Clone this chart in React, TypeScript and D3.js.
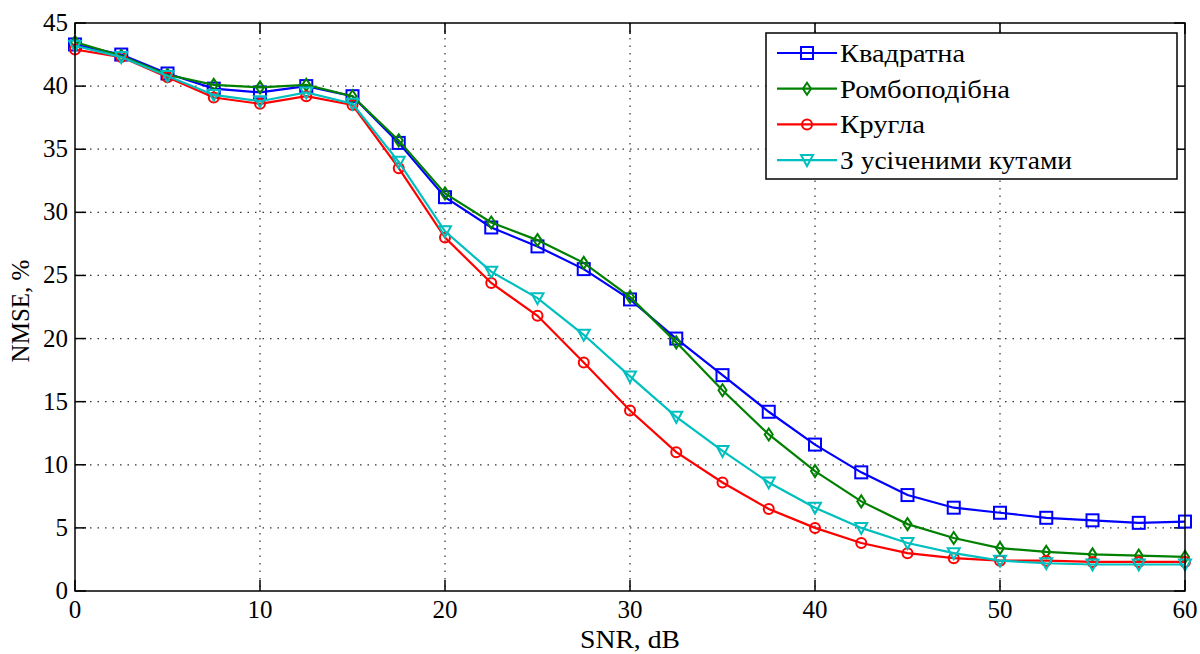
import React from "react";
import * as d3 from "d3";

const snr = [0, 2.5, 5, 7.5, 10, 12.5, 15, 17.5, 20, 22.5, 25, 27.5, 30, 32.5, 35, 37.5, 40, 42.5, 45, 47.5, 50, 52.5, 55, 57.5, 60];
const square = [43.3, 42.5, 41.0, 39.8, 39.5, 40.0, 39.2, 35.5, 31.2, 28.8, 27.3, 25.5, 23.1, 20.0, 17.1, 14.2, 11.6, 9.4, 7.6, 6.6, 6.2, 5.8, 5.6, 5.4, 5.5];
const rhombus = [43.5, 42.4, 40.9, 40.1, 39.9, 40.1, 39.2, 35.7, 31.5, 29.2, 27.8, 26.0, 23.3, 19.7, 15.9, 12.4, 9.5, 7.1, 5.3, 4.2, 3.4, 3.1, 2.9, 2.8, 2.7];
const round = [42.9, 42.3, 40.7, 39.1, 38.6, 39.2, 38.5, 33.5, 28.0, 24.4, 21.8, 18.1, 14.3, 11.0, 8.6, 6.5, 5.0, 3.8, 3.0, 2.6, 2.4, 2.4, 2.3, 2.3, 2.3];
const truncated = [43.2, 42.3, 40.8, 39.3, 38.8, 39.5, 38.6, 34.0, 28.5, 25.3, 23.2, 20.3, 17.0, 13.8, 11.1, 8.6, 6.6, 5.0, 3.8, 3.0, 2.4, 2.2, 2.1, 2.1, 2.1];

const seriesNames = ["Квадратна", "Ромбоподібна", "Кругла", "З усіченими кутами"];
const seriesColors = ["#0000ff", "#008000", "#ff0000", "#00bfbf"];
const seriesMarkers = ["square", "diamond", "circle", "triangle"];
const seriesValues = [square, rhombus, round, truncated];
const legendWidths = [125, 170, 85, 232];

const xTicks = [0, 10, 20, 30, 40, 50, 60];
const yTicks = [0, 5, 10, 15, 20, 25, 30, 35, 40, 45];

const W = 1200, H = 654;
const L = 75, R = 1185, T = 23, B = 591;
const FONT = "'Liberation Serif', 'DejaVu Serif', serif";
const CYR = "'Times New Roman', Tinos, 'Nimbus Roman', 'Nimbus Roman No9 L', FreeSerif, 'Noto Serif', 'PT Serif', 'Liberation Serif', 'DejaVu Serif', serif";

function Marker({ kind, x, y, color }: { kind: string; x: number; y: number; color: string }) {
  if (kind === "square") {
    const s = 12;
    return <rect x={x - s / 2} y={y - s / 2} width={s} height={s} fill="none" stroke={color} strokeWidth={2} />;
  }
  if (kind === "circle") {
    return <circle cx={x} cy={y} r={5} fill="none" stroke={color} strokeWidth={2} />;
  }
  if (kind === "diamond") {
    return <path d={`M${x},${y - 6} L${x + 4},${y} L${x},${y + 6} L${x - 4},${y} Z`} fill="none" stroke={color} strokeWidth={2} />;
  }
  return <path d={`M${x - 6},${y - 5} L${x + 6},${y - 5} L${x},${y + 6} Z`} fill="none" stroke={color} strokeWidth={2} />;
}

export default function App() {
  const x = d3.scaleLinear().domain([0, 60]).range([L, R]);
  const y = d3.scaleLinear().domain([0, 45]).range([B, T]);
  const line = d3.line<number>().x((_, i) => x(snr[i])).y((v) => y(v));
  const tickLen = 11;

  const legX = 766, legY = 33, legW = 411, legH = 146;
  const rowH = 35.7;

  return (
    <div style={{ position: "absolute", left: 0, top: 0 }}>
      <svg width={W} height={H} style={{ display: "block", background: "#fff" }}>
        {/* grid */}
        {xTicks.slice(1, -1).map((t) => (
          <line key={"gx" + t} x1={x(t)} x2={x(t)} y1={T} y2={B} stroke="#333" strokeWidth={1.2} strokeDasharray="1.5,6" />
        ))}
        {yTicks.slice(1, -1).map((t) => (
          <line key={"gy" + t} x1={L} x2={R} y1={y(t)} y2={y(t)} stroke="#333" strokeWidth={1.2} strokeDasharray="1.5,6" />
        ))}
        {/* ticks */}
        {xTicks.map((t) => (
          <g key={"tx" + t}>
            <line x1={x(t)} x2={x(t)} y1={B} y2={B - tickLen} stroke="#000" strokeWidth={1.5} />
            <line x1={x(t)} x2={x(t)} y1={T} y2={T + tickLen} stroke="#000" strokeWidth={1.5} />
            <text x={x(t)} y={B + 27} textAnchor="middle" fontFamily={FONT} fontSize={25} fill="#000">{t}</text>
          </g>
        ))}
        {yTicks.map((t) => (
          <g key={"ty" + t}>
            <line x1={L} x2={L + tickLen} y1={y(t)} y2={y(t)} stroke="#000" strokeWidth={1.5} />
            <line x1={R} x2={R - tickLen} y1={y(t)} y2={y(t)} stroke="#000" strokeWidth={1.5} />
            <text x={L - 7} y={y(t) + 8} textAnchor="end" fontFamily={FONT} fontSize={25} fill="#000">{t}</text>
          </g>
        ))}
        {/* series */}
        {seriesValues.map((vals, si) => (
          <g key={"s" + si}>
            <path d={line(vals) || ""} fill="none" stroke={seriesColors[si]} strokeWidth={2.2} />
            {vals.map((v, i) => (
              <Marker key={i} kind={seriesMarkers[si]} x={x(snr[i])} y={y(v)} color={seriesColors[si]} />
            ))}
          </g>
        ))}
        {/* box */}
        <rect x={L} y={T} width={R - L} height={B - T} fill="none" stroke="#000" strokeWidth={1.5} />
        {/* legend */}
        <rect x={legX} y={legY} width={legW} height={legH} fill="#fff" stroke="#000" strokeWidth={1.5} />
        {seriesNames.map((n, i) => {
          const cy = legY + 20 + i * rowH;
          return (
            <g key={"l" + i}>
              <line x1={777} x2={837} y1={cy} y2={cy} stroke={seriesColors[i]} strokeWidth={2.2} />
              <Marker kind={seriesMarkers[i]} x={807} y={cy} color={seriesColors[i]} />
              <text x={840} y={cy + 9} fontFamily={CYR} fontSize={25} textLength={legendWidths[i]} lengthAdjust="spacingAndGlyphs" fill="#000">{n}</text>
            </g>
          );
        })}
        {/* axis labels */}
        <text x={(L + R) / 2} y={648} textAnchor="middle" fontFamily={FONT} fontSize={25} textLength={100} lengthAdjust="spacingAndGlyphs" fill="#000">SNR, dB</text>
        <text transform={`translate(29, ${(T + B) / 2 + 4}) rotate(-90)`} textAnchor="middle" fontFamily={FONT} fontSize={25} fill="#000">NMSE, %</text>
      </svg>
    </div>
  );
}
